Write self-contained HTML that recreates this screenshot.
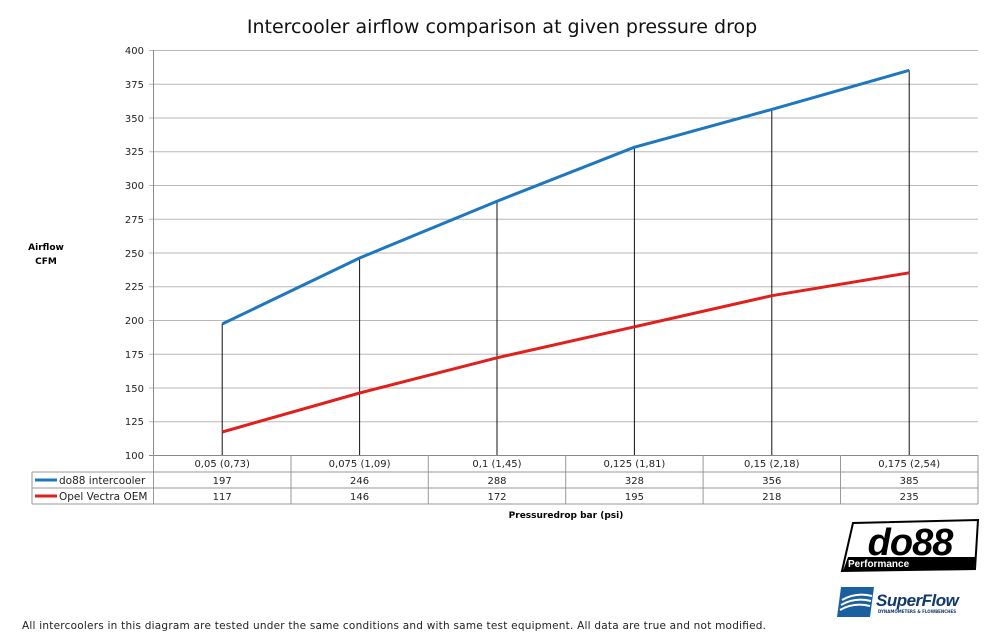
<!DOCTYPE html>
<html><head><meta charset="utf-8"><style>body{margin:0;background:#fff}svg{display:block}</style></head><body>
<svg width="1000" height="643" viewBox="0 0 1000 643" xmlns="http://www.w3.org/2000/svg" font-family="'DejaVu Sans','Liberation Sans',sans-serif">
<rect width="1000" height="643" fill="#fff"/>
<text x="502" y="33" font-size="19" text-anchor="middle" fill="#111">Intercooler airflow comparison at given pressure drop</text>
<g stroke="#b8b8b8" stroke-width="1">
<line x1="149" y1="50.5" x2="978" y2="50.5"/><line x1="149" y1="84.25" x2="978" y2="84.25"/><line x1="149" y1="118" x2="978" y2="118"/><line x1="149" y1="151.75" x2="978" y2="151.75"/><line x1="149" y1="185.5" x2="978" y2="185.5"/><line x1="149" y1="219.25" x2="978" y2="219.25"/><line x1="149" y1="253" x2="978" y2="253"/><line x1="149" y1="286.75" x2="978" y2="286.75"/><line x1="149" y1="320.5" x2="978" y2="320.5"/><line x1="149" y1="354.25" x2="978" y2="354.25"/><line x1="149" y1="388" x2="978" y2="388"/><line x1="149" y1="421.75" x2="978" y2="421.75"/>
<line x1="149" y1="455.5" x2="978" y2="455.5" stroke="#888"/>
<line x1="153.5" y1="50" x2="153.5" y2="455" stroke="#888"/>
</g>
<g font-size="10" text-anchor="end" fill="#222">
<text x="144" y="54">400</text><text x="144" y="88">375</text><text x="144" y="122">350</text><text x="144" y="155">325</text><text x="144" y="189">300</text><text x="144" y="223">275</text><text x="144" y="257">250</text><text x="144" y="290">225</text><text x="144" y="324">200</text><text x="144" y="358">175</text><text x="144" y="392">150</text><text x="144" y="425">125</text><text x="144" y="459">100</text>
</g>
<text x="46" y="250" font-size="9" font-weight="bold" text-anchor="middle">Airflow</text>
<text x="46" y="264" font-size="9" font-weight="bold" text-anchor="middle">CFM</text>
<g stroke="#111" stroke-width="1">
<line x1="222.2" y1="324" x2="222.2" y2="455"/><line x1="359.6" y1="258" x2="359.6" y2="455"/><line x1="497" y1="201" x2="497" y2="455"/><line x1="634.4" y1="147" x2="634.4" y2="455"/><line x1="771.8" y1="109" x2="771.8" y2="455"/><line x1="909.2" y1="70" x2="909.2" y2="455"/>
</g>
<polyline fill="none" stroke="#1f77c0" stroke-width="3" points="222.2,324 359.6,258 497,201.2 634.4,147.2 771.8,109.4 909.2,70.3"/>
<polyline fill="none" stroke="#e0201c" stroke-width="3" points="222.2,432 359.6,393 497,357.8 634.4,326.8 771.8,295.7 909.2,272.8"/>
<g stroke="#999" stroke-width="1" fill="none">
<line x1="153.5" y1="455" x2="153.5" y2="504"/>
<line x1="291" y1="455" x2="291" y2="504"/><line x1="428.3" y1="455" x2="428.3" y2="504"/><line x1="565.7" y1="455" x2="565.7" y2="504"/><line x1="703.1" y1="455" x2="703.1" y2="504"/><line x1="840.5" y1="455" x2="840.5" y2="504"/><line x1="978" y1="455" x2="978" y2="504"/>
<line x1="32" y1="472" x2="978" y2="472"/><line x1="32" y1="488" x2="978" y2="488"/><line x1="32" y1="504" x2="978" y2="504"/>
<line x1="32" y1="472" x2="32" y2="504"/>
</g>
<g font-size="10" text-anchor="middle" fill="#222">
<text x="222.2" y="467">0,05 (0,73)</text><text x="359.6" y="467">0,075 (1,09)</text><text x="497" y="467">0,1 (1,45)</text><text x="634.4" y="467">0,125 (1,81)</text><text x="771.8" y="467">0,15 (2,18)</text><text x="909.2" y="467">0,175 (2,54)</text>
<text x="222.2" y="484">197</text><text x="359.6" y="484">246</text><text x="497" y="484">288</text><text x="634.4" y="484">328</text><text x="771.8" y="484">356</text><text x="909.2" y="484">385</text>
<text x="222.2" y="500">117</text><text x="359.6" y="500">146</text><text x="497" y="500">172</text><text x="634.4" y="500">195</text><text x="771.8" y="500">218</text><text x="909.2" y="500">235</text>
</g>
<line x1="35" y1="480" x2="57" y2="480" stroke="#1f77c0" stroke-width="3"/>
<line x1="35" y1="496" x2="57" y2="496" stroke="#e0201c" stroke-width="3"/>
<text x="59" y="484" font-size="10.5" fill="#222">do88 intercooler</text>
<text x="59" y="500" font-size="10.5" fill="#222">Opel Vectra OEM</text>
<text x="566" y="518" font-size="9" font-weight="bold" text-anchor="middle">Pressuredrop bar (psi)</text>
<polygon points="853,523 978,520 975,569 842,571" fill="none" stroke="#000" stroke-width="2"/>
<polygon points="848,557 975,557 974,570 843,571" fill="#000"/>
<text x="910" y="555" font-size="38" font-weight="bold" font-style="italic" text-anchor="middle" fill="#000" font-family="'Liberation Sans',sans-serif" letter-spacing="-1">do88</text>
<text x="848" y="567" font-size="10" font-weight="bold" fill="#fff" font-family="'Liberation Sans',sans-serif">Performance</text>
<polygon points="841,587 874,587 870,617 837,617" fill="#1a5fa0"/>
<path d="M842,600 q14,-8 30,-4 M841,605 q14,-8 30,-4 M840,610 q14,-8 30,-4" stroke="#fff" stroke-width="2" fill="none"/>
<text x="876" y="606" font-size="17" font-weight="bold" font-style="italic" fill="#103a6a" font-family="'Liberation Sans',sans-serif" letter-spacing="-0.5">SuperFlow</text>
<text x="878" y="613" font-size="4" font-weight="bold" fill="#103a6a">DYNAMOMETERS &amp; FLOWBENCHES</text>
<text x="22" y="629" font-size="10.5" fill="#222" textLength="744" lengthAdjust="spacing">All intercoolers in this diagram are tested under the same conditions and with same test equipment. All data are true and not modified.</text>
</svg>
</body></html>
